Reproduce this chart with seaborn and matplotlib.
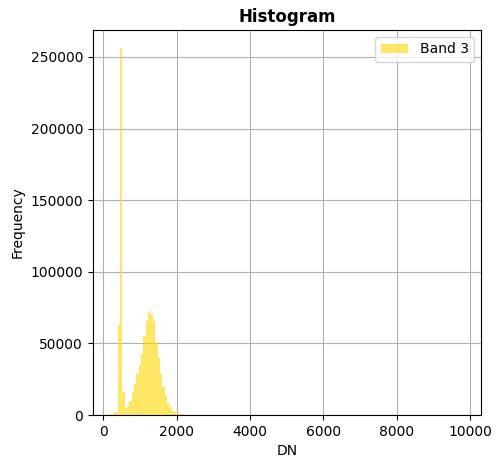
import numpy as np
import pandas as pd
import matplotlib
matplotlib.use("Agg")
import matplotlib.pyplot as plt
import seaborn as sns

# ── data (DN histogram of band 3) ─────────────────────────────────────────
dn_min, dn_max = 200, 9811
n_bins = 150
# counts of the first bins (the remaining bins up to dn_max are empty)
band3_counts = [
    700, 1200, 2300, 62800, 256000, 16300, 5100, 6300, 9800, 16300,
    21400, 28400, 34900, 42600, 55100, 65800, 72600, 70300, 65600, 50000,
    39600, 28400, 19800, 14000, 8600, 5400, 3000, 2300, 1200, 900,
    500, 300,
]
band_label = "Band 3"

edges = np.linspace(dn_min, dn_max, n_bins + 1)
centers = (edges[:-1] + edges[1:]) / 2
counts = np.zeros(n_bins)
counts[:len(band3_counts)] = band3_counts
df = pd.DataFrame({"DN": centers, "count": counts})

fig, ax = plt.subplots(figsize=(4.99, 4.68), dpi=100)
sns.histplot(data=df, x="DN", weights="count", bins=list(edges), color="gold",
             alpha=0.6, linewidth=0, label=band_label, ax=ax)

ax.set_title("Histogram", fontweight="bold")
ax.set_xlabel("DN")
ax.set_ylabel("Frequency")
ax.grid(True)
ax.set_axisbelow(True)
ax.legend(loc="upper right")

plt.subplots_adjust(left=0.186, right=0.964, top=0.936, bottom=0.113)
plt.savefig("out.png", dpi=100)
plt.close()
